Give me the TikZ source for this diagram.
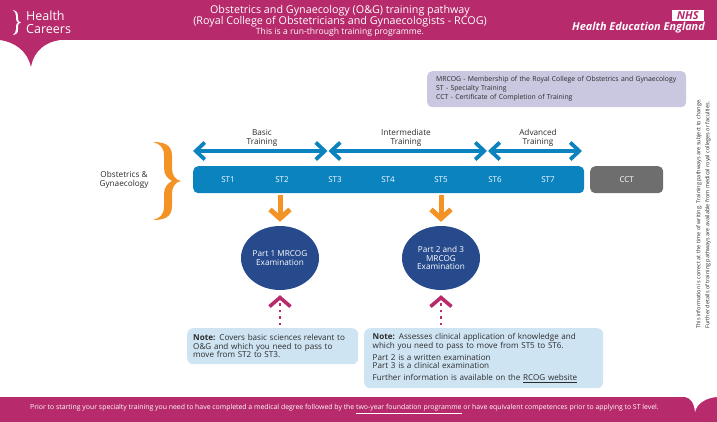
\documentclass[tikz,border=0pt]{standalone}
\usepackage{fontspec}
\setmainfont{Open Sans}
\usetikzlibrary{arrows.meta,shapes.geometric}
\definecolor{hepink}{HTML}{B72A6B}
\definecolor{heblue}{HTML}{0A83BF}
\definecolor{hegrey}{HTML}{6E6E6E}
\definecolor{heorange}{HTML}{F39325}
\definecolor{henavy}{HTML}{264A8C}
\definecolor{henote}{HTML}{CFE4F3}
\definecolor{helegend}{HTML}{C9C8E0}
\definecolor{hetext}{HTML}{2B2B2B}
\tikzset{
  stagebar/.style={fill=#1,rounded corners=5pt,minimum height=27pt,inner sep=0pt,anchor=north west,text=white,font=\fontsize{8}{9}\selectfont},
  stagelabel/.style={text=white,font=\fontsize{8}{9}\selectfont,inner sep=0pt},
  phaselabel/.style={text=hetext,align=center,inner sep=0pt,font=\fontsize{8.2}{9}\selectfont},
  phasearrow/.style={draw=heblue,line width=3.8pt,{Straight Barb[length=9pt,width=17pt,line width=3.8pt]}-{Straight Barb[length=9pt,width=17pt,line width=3.8pt]}},
  exam/.style={ellipse,fill=henavy,text=white,align=center,inner sep=0pt,minimum width=78pt,minimum height=64pt,font=\fontsize{8.2}{8.8}\selectfont},
  downarrow/.style={draw=heorange,line width=5pt,-{Straight Barb[length=9pt,width=20pt,line width=5pt]},shorten <=2pt,shorten >=4pt},
  uparrow/.style={draw=hepink,line width=2.6pt,dash pattern=on 2.5pt off 4pt,-{Straight Barb[length=9pt,width=21pt,line width=3.6pt]},shorten <=3pt,shorten >=5pt},
  notebox/.style={fill=henote,rounded corners=6pt,anchor=north west,align=left,text=hetext,inner ysep=0pt,font=\fontsize{8.1}{8.6}\selectfont},
}
\begin{document}
\begin{tikzpicture}[x=1pt,y=-1pt]
\useasboundingbox (0,0) rectangle (717,422);

% Header band with its pointer
\fill[hepink] (0,0) rectangle (717,40);
\fill[hepink] (0,40) .. controls (14,42) and (27,50) .. (31,67) .. controls (34,50) and (46,42) .. (60,40) -- cycle;
\fill[white] (13,10) .. controls (17,11) and (18,13) .. (18,17) -- (18,19) .. controls (18,21) and (19,22) .. (21,22.5) .. controls (19,23) and (18,24) .. (18,26) -- (18,29) .. controls (18,33) and (17,34) .. (13,35) .. controls (15,33) and (16,32) .. (16,29) -- (16,26) .. controls (16,24) and (17,23) .. (18.5,22.5) .. controls (17,22) and (16,21) .. (16,19) -- (16,16) .. controls (16,13) and (15,12) .. (13,10) -- cycle;
\node[text=white,anchor=west,inner sep=0pt,align=left,font=\fontsize{12.5}{13}\selectfont] (logo) at (26,22.5) {Health\\Careers};
\node[text=white,inner sep=0pt,font=\fontsize{10.75}{11}\selectfont] (title1) at (340,11) {Obstetrics and Gynaecology (O\&G) training pathway};
\node[text=white,inner sep=0pt,font=\fontsize{10.75}{11}\selectfont] (title2) at (340,22) {(Royal College of Obstetricians and Gynaecologists - RCOG)};
\node[text=white,inner sep=0pt,font=\fontsize{8.6}{9}\selectfont] (title3) at (340,32) {This is a run-through training programme.};
\node[fill=white,text=hepink,inner sep=0pt,anchor=north east,minimum width=32pt,minimum height=11pt,font=\fontsize{11}{11}\bfseries\itshape\selectfont] (nhs) at (704,10) {NHS};
\node[text=white,anchor=east,inner sep=0pt,font=\fontsize{10.9}{11}\bfseries\itshape\selectfont] (hee) at (705,28) {Health Education England};

% Footer band with its notch
\fill[hepink] (0,397) rectangle (717,422);
\fill[white] (685,397) .. controls (691,398) and (694,403) .. (695,412) .. controls (697,403) and (706,398) .. (717,397) -- cycle;
\node[text=white,inner sep=0pt,font=\fontsize{6.9}{7}\selectfont] (footer) at (344.5,409) {Prior to starting your specialty training you need to have completed a medical degree followed by the \underline{two-year foundation programme} or have equivalent competences prior to applying to ST level.};

% Abbreviations
\node[fill=helegend,rounded corners=5pt,anchor=north west,minimum height=36pt,inner xsep=9pt,inner ysep=0pt,text width=241pt,align=left,text=hetext,font=\fontsize{6.85}{9}\selectfont] (legend) at (427,71) {MRCOG - Membership of the Royal College of Obstetrics and Gynaecology\\ST - Specialty Training\\CCT - Certificate of Completion of Training};

% Side remark
\node[rotate=90,text=hetext,inner sep=0pt,align=left,font=\fontsize{5.5}{9}\selectfont] (remark) at (703.5,214) {This information is correct at the time of writing. Training pathways are subject to change.\\Further details of training pathways are available from medical royal colleges or faculties.};

% Specialty and its brace
\node[phaselabel] (specialty) at (124,179.5) {Obstetrics \&\\Gynaecology};
\fill[heorange] (153,142) .. controls (163,142) and (172,144) .. (172,156) -- (172,168) .. controls (172,175) and (175,180) .. (181,181) .. controls (175,182) and (172,187) .. (172,194) -- (172,206) .. controls (172,218) and (163,220) .. (153,220) .. controls (160,218) and (164,215) .. (164,206) -- (164,194) .. controls (164,187) and (168,183) .. (172,181) .. controls (168,179) and (164,175) .. (164,168) -- (164,156) .. controls (164,147) and (160,144) .. (153,142) -- cycle;

% Stage bars
\node[stagebar=heblue,minimum width=391pt] (bar) at (193,166) {};
\node[stagebar=hegrey,minimum width=73pt] (cct) at (590,166) {CCT};
\foreach \num/\xpos in {1/228,2/282,3/335,4/388,5/441,6/495,7/548}
  \node[stagelabel] (st\num) at (\xpos,180) {ST\num};

% Training phases
\coordinate (basicstart) at (193,151);
\coordinate (basicend) at (327.5,151);
\coordinate (midstart) at (328.5,151);
\coordinate (midend) at (487,151);
\coordinate (advstart) at (488,151);
\coordinate (advend) at (582,151);
\draw[phasearrow] (basicstart) -- (basicend);
\draw[phasearrow] (midstart) -- (midend);
\draw[phasearrow] (advstart) -- (advend);
\node[phaselabel] (basic) at (262,137.5) {Basic\\Training};
\node[phaselabel] (intermediate) at (406,137.5) {Intermediate\\Training};
\node[phaselabel] (advanced) at (538,137.5) {Advanced\\Training};

% Examinations
\node[exam] (exam1) at (280,258) {Part 1 MRCOG\\Examination};
\node[exam] (exam2) at (441,258) {Part 2 and 3\\MRCOG\\Examination};
\draw[downarrow] (exam1.north |- bar.south) -- (exam1.north);
\draw[downarrow] (exam2.north |- bar.south) -- (exam2.north);

% Notes
\node[notebox,minimum height=36pt,inner xsep=6pt,text width=159pt] (note1) at (187,328) {\textbf{Note:} Covers basic sciences relevant to\\O\&G and which you need to pass to\\move from ST2 to ST3.};
\node[notebox,minimum height=60pt,inner xsep=8.5pt,text width=222pt] (note2) at (364,328) {\textbf{Note:} Assesses clinical application of knowledge and\\which you need to pass to move from ST5 to ST6.\\[3.4pt]Part 2 is a written examination\\Part 3 is a clinical examination\\[3.4pt]Further information is available on the \underline{RCOG website}};
\draw[uparrow] (exam1.south |- note1.north) -- (exam1.south);
\draw[uparrow] (exam2.south |- note2.north) -- (exam2.south);
\end{tikzpicture}
\end{document}
